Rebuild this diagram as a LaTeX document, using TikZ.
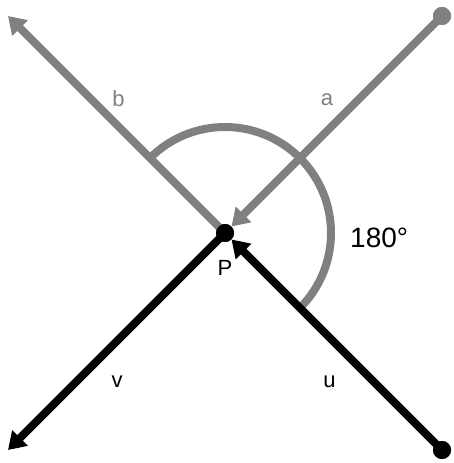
\documentclass[tikz,border=0pt]{standalone}
\usepackage{fontspec}
\setmainfont{Liberation Sans}
\usetikzlibrary{arrows.meta}
\definecolor{lgray}{HTML}{808080}
\tikzset{
  vec/.style={line width=8pt, -{Triangle[length=17pt,width=21pt]}},
  seg/.style={line width=8pt},
  dotnode/.style={circle, fill=#1, minimum size=18pt, inner sep=0pt},
  lbl/.style={font=\fontsize{22}{26}\selectfont, anchor=base, inner sep=0pt},
}
\begin{document}
\begin{tikzpicture}[x=1pt,y=1pt]
\useasboundingbox (0,0) rectangle (453,463);
% points
\node[dotnode=black] (P) at (225,230) {};
\node[dotnode=lgray] (adot) at (442,447) {};
\node[dotnode=black] (udot) at (442,13) {};
\coordinate (bt) at (8,447);
\coordinate (vt) at (8,13);
% gray vectors
\draw[vec, lgray] (adot.center) -- (P);
\draw[vec, lgray] (P.center) -- (bt);
% angle arc
\draw[lgray, line width=8pt] (P.center) ++(135:106) arc[start angle=135, end angle=-45, radius=106];
% black vectors
\draw[vec, black] (udot.center) -- (P);
\draw[vec, black] (P.center) -- (vt);
% redraw dots on top
\node[dotnode=black] at (P) {};
\node[dotnode=lgray] at (adot) {};
\node[dotnode=black] at (udot) {};
% labels
\node[lbl, text=lgray] (la) at (327,357) {a};
\node[lbl, text=lgray] (lb) at (118.5,356) {b};
\node[lbl] (lP) at (225,187.3) {P};
\node[lbl] (lv) at (117,75) {v};
\node[lbl] (lu) at (329.5,75) {u};
\node[lbl, anchor=base west, font=\fontsize{28}{32}\selectfont] (lang) at (350,215.7) {180°};
\end{tikzpicture}
\end{document}
